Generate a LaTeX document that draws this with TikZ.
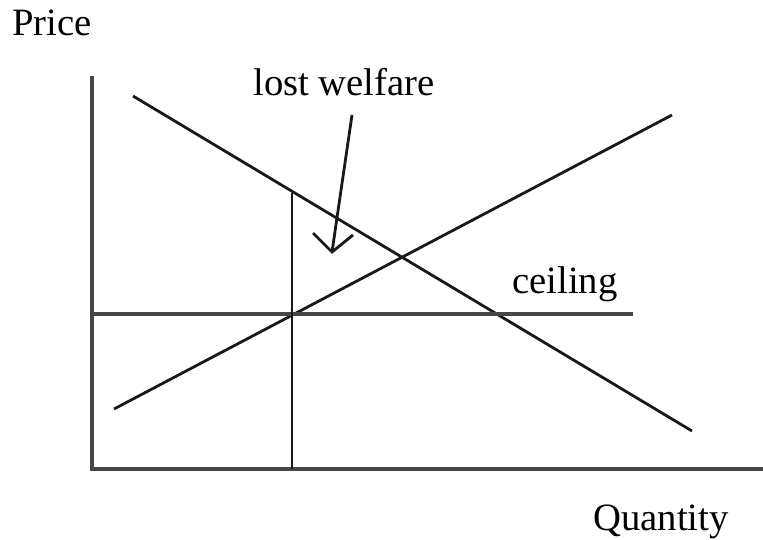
\documentclass[tikz,border=0pt]{standalone}
\usepackage{fontspec}
\setmainfont{Liberation Serif}
\begin{document}
\begin{tikzpicture}[x=0.75pt,y=-0.75pt,
  axisline/.style={line width=2.5pt,draw=black!72},
  curve/.style={line width=2.1pt,draw=black!90,line join=miter},
  lbl/.style={anchor=base west,inner sep=0pt,font=\fontsize{29}{34}\selectfont}]
\useasboundingbox (0,0) rectangle (763,539);
% axes
\coordinate (ytop) at (92,76);
\coordinate (origin) at (92,469);
\coordinate (xend) at (763,469);
\draw[axisline] (ytop) -- (origin) -- (xend);
% demand
\coordinate (d1) at (133,96);
\coordinate (d2) at (692,431);
\draw[curve] (d1) -- (d2);
% supply
\coordinate (s1) at (114,409);
\coordinate (s2) at (672,115);
\draw[curve] (s1) -- (s2);
% ceiling
\coordinate (c1) at (92,314);
\coordinate (c2) at (633,314);
\draw[axisline,line width=2.3pt] (c1) -- (c2);
% quantity line
\coordinate (q1) at (292,193);
\coordinate (q2) at (292,469);
\draw[curve] (q1) -- (q2);
% labels
\node[lbl] (price) at (12,36) {Price};
\node[lbl] (lost) at (253,95) {lost welfare};
\node[lbl] (ceil) at (512,293) {ceiling};
\node[lbl] (qty) at (593,530) {Quantity};
% arrow
\coordinate (a1) at (352,115);
\coordinate (a2) at (332,252);
\coordinate (wl) at (313,233);
\coordinate (wr) at (353,235);
\draw[curve] (a1) -- (a2);
\draw[curve] (wl) -- (a2) -- (wr);
\end{tikzpicture}
\end{document}
